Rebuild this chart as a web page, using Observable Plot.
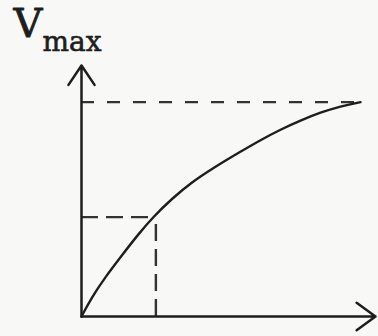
<!DOCTYPE html>
<html>
<head>
<meta charset="utf-8">
<script src="https://cdn.jsdelivr.net/npm/d3@7"></script>
<script src="https://cdn.jsdelivr.net/npm/@observablehq/plot@0.6"></script>
<style>
  html, body { margin: 0; padding: 0; background: #f8f8f6; }
  #chart svg { display: block; background: #f8f8f6; }
</style>
</head>
<body>
<div id="chart"></div>
<script>
// Substrate concentration (x) and reaction velocity (y), arbitrary units
const substrate = [0, 0.35, 0.81, 1.37, 1.94, 2.45, 3.07, 3.75, 4.43, 5.41, 6.09, 6.77, 7.45, 8.13, 8.81, 9.49];
const velocity  = [0, 0.77, 1.57, 2.43, 3.29, 3.98, 4.69, 5.35, 5.88, 6.57, 7.03, 7.45, 7.81, 8.13, 8.38, 8.54];

const vmax = 8.54;        // plateau level
const vmaxEndX = 9.59;    // where the Vmax guide ends
const halfV = 3.96;       // half-velocity guide level
const km = 2.53;          // substrate at half velocity
const axisMax = 10;       // axis extents
const labelMain = "V";
const labelSub = "max";

const curve = substrate.map((s, i) => ({s, v: velocity[i]}));

const ink = "#1e1e1e";

const plot = Plot.plot({
  width: 378,
  height: 336,
  marginLeft: 81,
  marginRight: 3,
  marginTop: 65,
  marginBottom: 20,
  x: {domain: [0, axisMax], axis: null},
  y: {domain: [0, axisMax], axis: null},
  style: {background: "#f8f8f6"},
  marks: [
    // Vmax guide
    Plot.ruleY([vmax], {x1: 0, x2: vmaxEndX, stroke: "#333", strokeWidth: 2.4, strokeDasharray: "13,13"}),
    // half-velocity guides
    Plot.ruleY([halfV], {x1: 0, x2: km, stroke: "#333", strokeWidth: 2.4, strokeDasharray: "17,8"}),
    Plot.ruleX([km], {y1: 0, y2: halfV, stroke: "#333", strokeWidth: 2.4, strokeDasharray: "17,8"}),
    // curve
    Plot.line(curve, {x: "s", y: "v", curve: "basis", stroke: ink, strokeWidth: 2.4}),
    // axes with arrowheads
    Plot.arrow([{x1: 0, y1: 0, x2: 0, y2: axisMax}], {x1: "x1", y1: "y1", x2: "x2", y2: "y2", stroke: ink, strokeWidth: 2.5, headAngle: 68, headLength: 14}),
    Plot.arrow([{x1: 0, y1: 0, x2: axisMax, y2: 0}], {x1: "x1", y1: "y1", x2: "x2", y2: "y2", stroke: ink, strokeWidth: 2.5, headAngle: 72, headLength: 14}),
    // V_max label
    Plot.text([labelMain], {text: d => d, frameAnchor: "top-left", dx: -68, dy: -29, textAnchor: "start", lineAnchor: "bottom",
      fontFamily: "DejaVu Serif", fontSize: 40, fill: ink, stroke: ink, strokeWidth: 0.8}),
    Plot.text([labelSub], {text: d => d, frameAnchor: "top-left", dx: -39, dy: -15, textAnchor: "start", lineAnchor: "bottom",
      fontFamily: "DejaVu Serif", fontSize: 28, fill: ink, stroke: ink, strokeWidth: 0.6, letterSpacing: 4})
  ]
});

document.getElementById("chart").appendChild(plot);
</script>
</body>
</html>
